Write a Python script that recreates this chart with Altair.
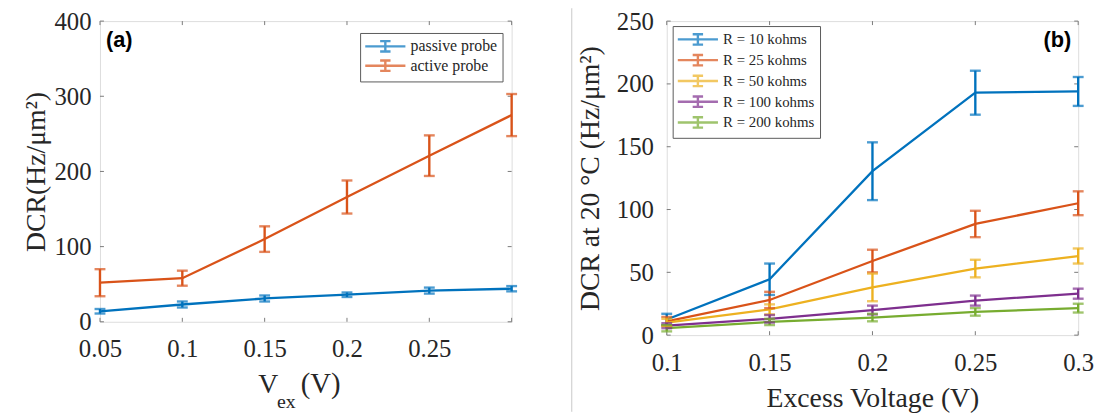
import altair as alt
import pandas as pd

# ---------------- Panel (a) data ----------------
vex_a = [0.05, 0.10, 0.15, 0.20, 0.25, 0.30]
passive = [14, 23, 31, 36, 41.5, 44]
passive_err = [3, 4, 4, 3, 4, 3.5]
active = [52, 58, 110, 166, 221, 275]
active_err = [18, 10, 17, 22, 27, 28]
series_a = ["passive probe", "active probe"]
colors_a = ["#0072BD", "#D95319"]
xticks_a = [0.05, 0.10, 0.15, 0.20, 0.25, 0.30]
xlabels_a = [0.05, 0.10, 0.15, 0.20, 0.25]
yticks_a = [0, 100, 200, 300, 400]

# ---------------- Panel (b) data ----------------
vex_b = [0.10, 0.15, 0.20, 0.25, 0.30]
r10 = [12.5, 44.5, 130.5, 193, 194]
r10_err = [4.5, 12.5, 23, 17.5, 11.5]
r25 = [11, 28, 59, 88.5, 105]
r25_err = [3.5, 6.5, 9, 10.5, 9.5]
r50 = [10, 20.5, 38, 53, 63]
r50_err = [3, 4, 11, 7, 6]
r100 = [7.5, 13, 20, 27.5, 33]
r100_err = [2, 3, 3.5, 4, 4]
r200 = [5.5, 10.5, 14, 18.5, 21.5]
r200_err = [2.5, 2.5, 3, 3, 3.5]
series_b = ["R = 10 kohms", "R = 25 kohms", "R = 50 kohms", "R = 100 kohms", "R = 200 kohms"]
colors_b = ["#0072BD", "#D95319", "#EDB120", "#7E2F8E", "#77AC30"]
xticks_b = [0.10, 0.15, 0.20, 0.25, 0.30]
yticks_b = [0, 50, 100, 150, 200, 250]

GRAY = "#7a7a7a"
TXT = "#262626"
SERIF = "Liberation Serif"
LEG_PATH = "M-2.9,0H2.9M0,-0.75V0.75M-0.75,-0.75H0.75M-0.75,0.75H0.75"


def long_df(x, names, vals, errs):
    rows = []
    for name, v, e in zip(names, vals, errs):
        for xi, vi, ei in zip(x, v, e):
            rows.append({"x": xi, "y": vi, "lo": vi - ei, "hi": vi + ei, "s": name})
    return pd.DataFrame(rows)


def panel(df, names, colors, xdom, xlabels, xticks, ydom, yticks, W, H,
          ytitle, xtitle, lab_pad_x, lab_pad_y, title_pad_x, title_pad_y,
          leg_x, leg_y, leg_font, leg_rowpad, extra):
    xs = alt.Scale(domain=xdom, nice=False, zero=False)
    ys = alt.Scale(domain=ydom, nice=False)
    cs = alt.Scale(domain=names, range=colors)
    xaxis = alt.Axis(values=xlabels, format="~g", grid=False, domain=False, ticks=False,
                     tickSize=0, labelFont=SERIF, labelFontSize=25, labelColor=TXT,
                     labelPadding=lab_pad_x, labelFlush=False,
                     title=xtitle, titleFont=SERIF, titleFontSize=28,
                     titleFontWeight="normal", titleColor=TXT, titlePadding=title_pad_x)
    yaxis = alt.Axis(values=yticks, grid=False, domain=False, ticks=False, tickSize=0,
                     labelFont=SERIF, labelFontSize=25, labelColor=TXT,
                     labelPadding=lab_pad_y, labelFlush=False,
                     title=ytitle, titleFont=SERIF, titleFontSize=28,
                     titleFontWeight="normal", titleColor=TXT, titlePadding=title_pad_y)
    base = alt.Chart(df)
    legend = alt.Legend(title=None, orient="none", legendX=leg_x, legendY=leg_y,
                        symbolType=LEG_PATH, symbolSize=196, symbolStrokeWidth=2.4,
                        symbolOffset=12, labelOffset=17, labelFont=SERIF,
                        labelFontSize=leg_font, labelColor=TXT, rowPadding=leg_rowpad,
                        padding=5, strokeColor="#5a5a5a", fillColor="white",
                        labelLimit=300)
    X = alt.X("x:Q", scale=xs, axis=xaxis)
    Y = alt.Y("y:Q", scale=ys, axis=yaxis)
    C = alt.Color("s:N", scale=cs, legend=legend)
    lines = base.mark_line(strokeWidth=2.3).encode(x=X, y=Y, color=C, detail="s:N")
    bars = base.mark_rule(strokeWidth=2.4).encode(
        x=X, y=alt.Y("lo:Q", scale=ys, axis=yaxis), y2="hi:Q", color=C)
    cap_lo = base.mark_tick(orient="horizontal", size=11, thickness=2.4).encode(
        x=X, y=alt.Y("lo:Q", scale=ys, axis=yaxis), color=C)
    cap_hi = base.mark_tick(orient="horizontal", size=11, thickness=2.4).encode(
        x=X, y=alt.Y("hi:Q", scale=ys, axis=yaxis), color=C)
    xt = alt.Chart(pd.DataFrame({"v": xticks})).encode(x=alt.X("v:Q", scale=xs, axis=xaxis))
    yt = alt.Chart(pd.DataFrame({"v": yticks})).encode(y=alt.Y("v:Q", scale=ys, axis=yaxis))
    tk = dict(color=GRAY, strokeWidth=1)
    ticks = [
        xt.mark_rule(**tk).encode(y=alt.value(H), y2=alt.value(H - 4)),
        xt.mark_rule(**tk).encode(y=alt.value(0), y2=alt.value(4)),
        yt.mark_rule(**tk).encode(x=alt.value(0), x2=alt.value(4)),
        yt.mark_rule(**tk).encode(x=alt.value(W), x2=alt.value(W - 4)),
    ]
    layers = [lines] + ticks + [bars, cap_lo, cap_hi] + extra
    return alt.layer(*layers).properties(width=W, height=H)


df_a = long_df(vex_a, series_a, [passive, active], [passive_err, active_err])
df_b = long_df(vex_b, series_b, [r10, r25, r50, r100, r200],
               [r10_err, r25_err, r50_err, r100_err, r200_err])

WA, HA = 416.2, 304
WB, HB = 416, 317.5

lab_a = alt.Chart(pd.DataFrame({"t": ["(a)"]})).mark_text(
    font="Liberation Sans", fontWeight="bold", fontSize=22, align="left",
    baseline="alphabetic", color="black").encode(text="t:N", x=alt.value(6), y=alt.value(26))
v_main = alt.Chart(pd.DataFrame({"t": ["V"]})).mark_text(
    font=SERIF, fontSize=28, align="left", baseline="alphabetic", color=TXT).encode(
    text="t:N", x=alt.value(160), y=alt.value(376))
v_sub = alt.Chart(pd.DataFrame({"t": ["ex"]})).mark_text(
    font=SERIF, fontSize=20, align="left", baseline="alphabetic", color=TXT).encode(
    text="t:N", x=alt.value(179), y=alt.value(391))
v_unit = alt.Chart(pd.DataFrame({"t": ["(V)"]})).mark_text(
    font=SERIF, fontSize=29, align="left", baseline="alphabetic", color=TXT).encode(
    text="t:N", x=alt.value(203), y=alt.value(376))

lab_b = alt.Chart(pd.DataFrame({"t": ["(b)"]})).mark_text(
    font="Liberation Sans", fontWeight="bold", fontSize=22, align="right",
    baseline="alphabetic", color="black").encode(text="t:N", x=alt.value(409), y=alt.value(26))
sep = alt.Chart(pd.DataFrame({"t": [0]})).mark_rule(color="#c8c8c8", strokeWidth=1).encode(
    x=alt.value(-96), y=alt.value(-13), y2=alt.value(395))

left = panel(df_a, series_a, colors_a, [0.05, 0.3], xlabels_a, xticks_a, [0, 400], yticks_a,
             WA, HA, "DCR(Hz/μm²)", None, 15, 9, 8, 4,
             263, 12, 16, -1.4, [lab_a, v_main, v_sub, v_unit])
right = panel(df_b, series_b, colors_b, [0.1, 0.3], xticks_b, xticks_b, [0, 250], yticks_b,
              WB, HB, "DCR at 20 °C (Hz/μm²)", "Excess Voltage (V)", 15.5, 13.5, 10, 11.5,
              6, 5, 15, 0, [lab_b, sep])

chart = alt.hconcat(left, right, spacing=53).resolve_scale(
    color="independent", x="independent", y="independent"
).properties(
    padding={"left": 14, "top": -3, "right": 0, "bottom": 0}
).configure_view(stroke=GRAY, strokeWidth=1).configure_legend(
    labelFont=SERIF, labelColor=TXT
).configure(background="white")

chart.save("out.html", embed_options={"renderer": "svg", "actions": False})
